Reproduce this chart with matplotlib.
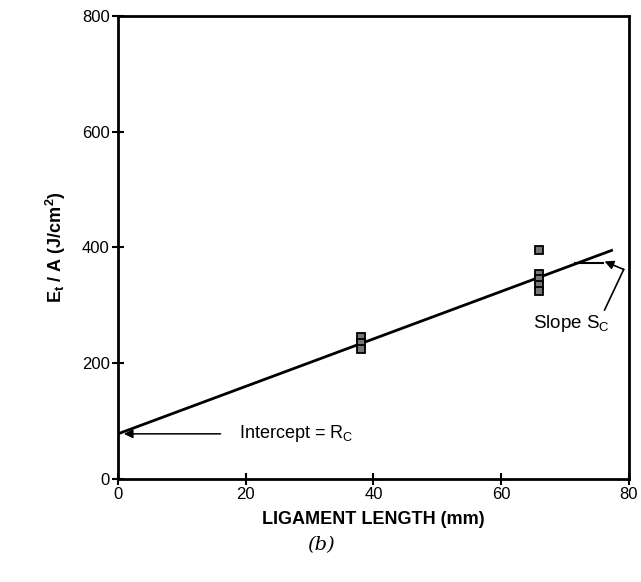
import numpy as np
import matplotlib
matplotlib.use("Agg")
import matplotlib.pyplot as plt

plt.rcParams['font.family'] = ['Liberation Sans', 'DejaVu Sans']
plt.rcParams['mathtext.fontset'] = 'custom'
plt.rcParams['mathtext.rm'] = 'Liberation Sans'
plt.rcParams['mathtext.bf'] = 'Liberation Sans:bold'
plt.rcParams['mathtext.it'] = 'Liberation Sans'

# data
lig_x = [38, 38, 38, 66, 66, 66, 66, 66]
energy_y = [245, 235, 225, 395, 355, 345, 335, 325]
fit_x = [0, 77.5]
fit_intercept = 78
fit_slope = 4.1

fig = plt.figure(figsize=(6.41, 5.82), dpi=100)
ax = fig.add_axes([0.184, 0.177, 0.797, 0.7955])

fx = np.array(fit_x)
ax.plot(fx, fit_intercept + fit_slope * fx, color='black', lw=2, solid_capstyle='butt')
ax.plot(lig_x, energy_y, 's', ms=6, mfc='#777777', mec='black', mew=1.3, zorder=3)

# slope marker
ax.plot([71.5, 76], [373, 373], color='black', lw=1.5)

ax.annotate('', xy=(0.5, fit_intercept), xytext=(16.5, fit_intercept),
            arrowprops=dict(arrowstyle='-|>', color='black', lw=1.1, mutation_scale=13))
ax.text(19, fit_intercept, 'Intercept = R$_\\mathrm{C}$', fontsize=13, va='center', ha='left')

ax.plot([76.2, 79.2], [292, 362], color='black', lw=1.2)
ax.annotate('', xy=(76.2, 376), xytext=(79.2, 362),
            arrowprops=dict(arrowstyle='-|>', color='black', lw=1.2, mutation_scale=13,
                            shrinkA=0, shrinkB=0))
ax.text(65, 268, 'Slope S$_\\mathrm{C}$', fontsize=13.5, va='center', ha='left')

ax.set_xlim(0, 80)
ax.set_ylim(0, 800)
ax.set_xticks([0, 20, 40, 60, 80])
ax.set_yticks([0, 200, 400, 600, 800])
ax.tick_params(direction='inout', length=8, width=1.5, labelsize=12, pad=2)
for s in ax.spines.values():
    s.set_linewidth(2)

ax.set_xlabel('LIGAMENT LENGTH (mm)', fontsize=13, fontweight='bold', labelpad=6)
ax.set_ylabel('E$_\\mathbf{t}$ / A (J/cm$^\\mathbf{2}$)', fontsize=13, fontweight='bold', labelpad=10)

fig.text(0.5, 0.063, '(b)', fontsize=14, style='italic', family='DejaVu Serif', ha='center', va='center')

fig.savefig('out.png', dpi=100)
